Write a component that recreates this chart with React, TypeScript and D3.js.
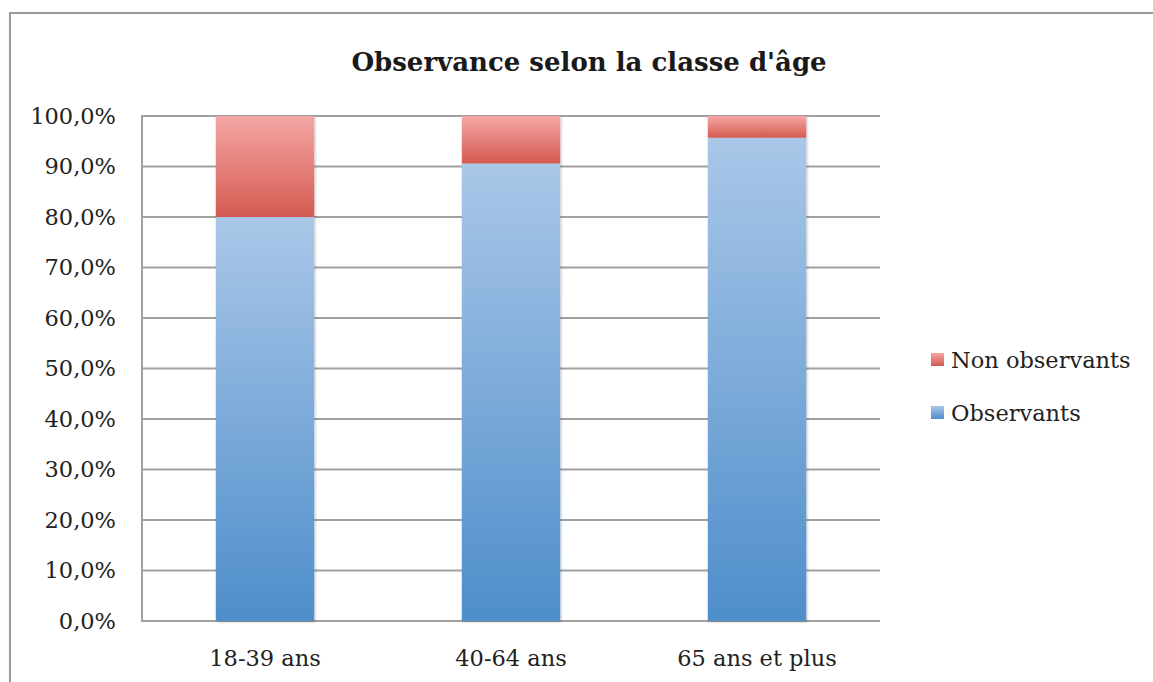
import React from 'react';
import * as d3 from 'd3';

const categories = ['18-39 ans', '40-64 ans', '65 ans et plus'];
const observants = [0.8, 0.906, 0.957];
const nonObservants = [0.2, 0.094, 0.043];
const seriesNames = ['Non observants', 'Observants'];
const yTicks = [0, 0.1, 0.2, 0.3, 0.4, 0.5, 0.6, 0.7, 0.8, 0.9, 1.0];

const W = 1153;
const H = 682;
const plot = { left: 142, right: 880, top: 116, bottom: 621 };
const font = '"DejaVu Serif", serif';

export default function App() {
  const x = d3.scaleBand().domain(categories).range([plot.left, plot.right]).paddingInner(0.6).paddingOuter(0.3);
  const y = d3.scaleLinear().domain([0, 1]).range([plot.bottom, plot.top]);
  const fmt = (v: number) => d3.format('.1f')(v * 100).replace('.', ',') + '%';

  const rows = categories.map((c, i) => ({ cat: c, obs: observants[i], non: nonObservants[i] }));

  return (
    <svg width={W} height={H} style={{ position: 'absolute', left: 0, top: 0, background: '#fff' }}>
      <defs>
        <linearGradient id="gRed" x1="0" y1="0" x2="0" y2="1">
          <stop offset="0" stopColor="#f5a7a5" />
          <stop offset="1" stopColor="#d45a51" />
        </linearGradient>
        <linearGradient id="gBlue" x1="0" y1="0" x2="0" y2="1">
          <stop offset="0" stopColor="#aac7e8" />
          <stop offset="1" stopColor="#4e8ecb" />
        </linearGradient>
        <filter id="shadow" x="-10%" y="-10%" width="120%" height="120%">
          <feDropShadow dx="1" dy="1" stdDeviation="1.2" floodColor="#000" floodOpacity="0.25" />
        </filter>
      </defs>

      {/* outer frame */}
      <path d={`M10,${H} V13 H${W}`} fill="none" stroke="#9a9a9a" strokeWidth={2} />

      <text x={589} y={71} textAnchor="middle" fontFamily={font} fontWeight="bold" fontSize={26} fill="#1a1a1a">
        Observance selon la classe d'âge
      </text>

      {/* grid */}
      {yTicks.map(t => (
        <g key={t}>
          <line x1={plot.left} x2={plot.right} y1={y(t)} y2={y(t)} stroke="#a0a0a0" strokeWidth={2} />
          <text x={116} y={y(t)} dy="0.35em" textAnchor="end" fontFamily={font} fontSize={22.5} fill="#222">
            {fmt(t)}
          </text>
        </g>
      ))}
      <line x1={plot.left} x2={plot.left} y1={plot.top - 1} y2={plot.bottom + 1} stroke="#a0a0a0" strokeWidth={2} />

      {/* bars */}
      {rows.map(r => (
        <g key={r.cat} filter="url(#shadow)">
          <rect x={x(r.cat)} width={x.bandwidth()} y={y(r.obs)} height={y(0) - y(r.obs)} fill="url(#gBlue)" />
          <rect x={x(r.cat)} width={x.bandwidth()} y={y(r.obs + r.non)} height={y(r.obs) - y(r.obs + r.non)} fill="url(#gRed)" />
        </g>
      ))}

      {categories.map(c => (
        <text key={c} x={(x(c) || 0) + x.bandwidth() / 2} y={658} dy="0.35em" textAnchor="middle" fontFamily={font} fontSize={22.5} fill="#222">
          {c}
        </text>
      ))}

      {/* legend */}
      {seriesNames.map((s, i) => (
        <g key={s} transform={`translate(931, ${353 + i * 53})`}>
          <rect width={13} height={13} fill={i === 0 ? 'url(#gRed)' : 'url(#gBlue)'} />
          <text x={20} y={7} dy="0.35em" fontFamily={font} fontSize={22.5} fill="#222">{s}</text>
        </g>
      ))}
    </svg>
  );
}
